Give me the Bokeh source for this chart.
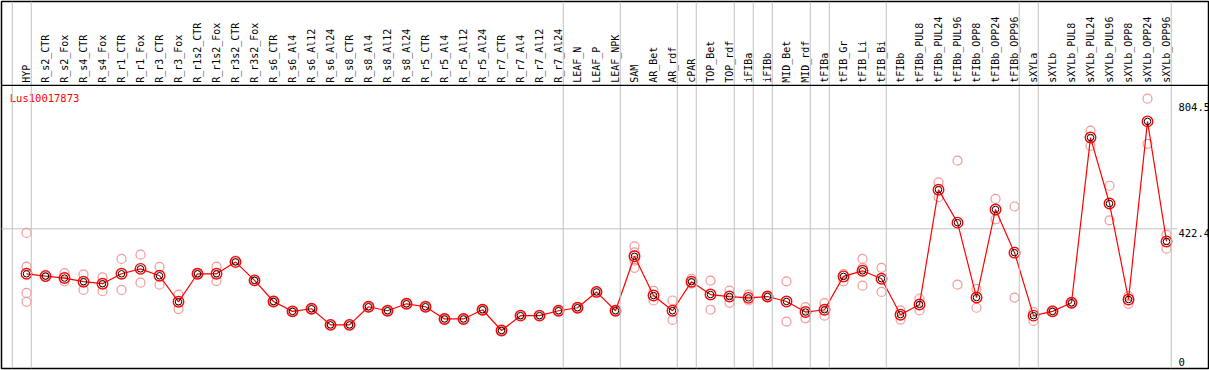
import math
from bokeh.plotting import figure
from bokeh.models import Range1d, Span, ColumnDataSource
from bokeh.core.properties import value
from bokeh.embed import file_html
from bokeh.resources import INLINE

gene = "Lus10017873"

categories = [
    "HYP",
    "R_s2_CTR", "R_s2_Fox", "R_s4_CTR", "R_s4_Fox", "R_r1_CTR", "R_r1_Fox",
    "R_r3_CTR", "R_r3_Fox", "R_r1s2_CTR", "R_r1s2_Fox", "R_r3s2_CTR", "R_r3s2_Fox",
    "R_s6_CTR", "R_s6_Al4", "R_s6_Al12", "R_s6_Al24", "R_s8_CTR", "R_s8_Al4",
    "R_s8_Al12", "R_s8_Al24", "R_r5_CTR", "R_r5_Al4", "R_r5_Al12", "R_r5_Al24",
    "R_r7_CTR", "R_r7_Al4", "R_r7_Al12", "R_r7_Al24",
    "LEAF_N", "LEAF_P", "LEAF_NPK",
    "SAM", "AR_Bet", "AR_rdf",
    "cPAR",
    "TOP_Bet", "TOP_rdf",
    "iFIBa",
    "iFIBb",
    "MID_Bet", "MID_rdf",
    "tFIBa",
    "tFIB_Gr", "tFIB_Li", "tFIB_Bi",
    "tFIBb", "tFIBb_PUL8", "tFIBb_PUL24", "tFIBb_PUL96", "tFIBb_OPP8",
    "tFIBb_OPP24", "tFIBb_OPP96",
    "sXYLa",
    "sXYLb", "sXYLb_PUL8", "sXYLb_PUL24", "sXYLb_PUL96", "sXYLb_OPP8",
    "sXYLb_OPP24", "sXYLb_OPP96",
]

# number of consecutive categories in each tissue group (separated by grey lines)
group_sizes = [1, 28, 3, 3, 1, 2, 1, 1, 2, 1, 3, 7, 1, 7]

means = [
    286,
    279, 273, 262, 256, 286, 301, 280, 201, 286, 286, 322, 266,
    202, 172, 180, 131, 131, 186, 174, 195, 186, 149, 149, 177,
    114, 159, 159, 174,
    183, 231, 174,
    339, 220, 174,
    262,
    223, 217,
    213,
    217,
    202, 170,
    177,
    278, 295, 271,
    162, 193, 541, 441, 214, 481, 350,
    159,
    172, 198, 699, 499, 208, 748, 384,
]

replicates = [
    [410, 308, 228, 201],
    [283, 276], [288, 263], [284, 237], [275, 233], [331, 237], [344, 259],
    [307, 253], [223, 179], [288, 284], [308, 264], [326, 318], [268, 264],
    [204, 200], [173, 171], [181, 179], [132, 130], [132, 130], [187, 185],
    [175, 173], [196, 194], [187, 185], [150, 148], [150, 148], [178, 176],
    [115, 113], [160, 158], [160, 158], [175, 173],
    [184, 182], [232, 230], [175, 173],
    [369, 351, 326, 304], [234, 205], [205, 146],
    [271, 256],
    [265, 177], [235, 198],
    [223, 205],
    [218, 216],
    [263, 141], [185, 151],
    [197, 159],
    [285, 263], [331, 304, 250], [304, 231],
    [175, 147], [211, 175], [563, 518], [629, 253], [240, 183], [513, 451], [490, 214],
    [170, 143],
    [174, 170], [200, 196], [720, 674], [553, 448], [218, 195], [817, 680], [405, 362],
]

scale_ticks = [0, 422.4, 804.5]
scale_labels = ["0", "422.4", "804.5"]

# ---------------------------------------------------------------------------
xs = list(range(len(categories)))

p = figure(width=1209, height=370, output_backend="svg", toolbar_location=None,
           x_range=Range1d(-1.316, 62.21), y_range=Range1d(-1.2, 1111.6),
           x_axis_location=None, y_axis_location=None,
           min_border_left=1, min_border_right=1,
           min_border_top=1, min_border_bottom=2)
p.grid.visible = False
p.outline_line_color = "black"
p.outline_line_width = 1.5
p.background_fill_color = "white"
p.border_fill_color = "white"

# group separators (before the first group and after each group)
ends = [-1]
acc = -1
for g in group_sizes:
    acc += g
    ends.append(acc)
for e in ends:
    p.add_layout(Span(location=e + 0.25, dimension="height",
                      line_color="#c0c0c0", line_width=1))

# separator between label band and data area
label_band = 857
p.add_layout(Span(location=label_band, dimension="width",
                  line_color="black", line_width=1.2))

# mid grid line
p.segment(x0=[-1.4], y0=[scale_ticks[1]], x1=[60.55], y1=[scale_ticks[1]],
          line_color="#c0c0c0", line_width=1)

# category labels (rotated)
p.text(x=xs, y=[865] * len(xs), text=categories, angle=math.pi / 2,
       text_align="left", text_baseline="middle",
       text_font=value("DejaVu Sans Mono"), text_font_size="10px",
       text_color="black")

# scale labels on the right
p.text(x=[60.63] * 2, y=scale_ticks[1:], text=scale_labels[1:],
       text_align="left", text_baseline="top",
       text_font=value("DejaVu Sans Mono"), text_font_size="10.5px",
       text_color="black")
p.text(x=[60.63], y=scale_ticks[:1], text=scale_labels[:1], y_offset=-2,
       text_align="left", text_baseline="bottom",
       text_font=value("DejaVu Sans Mono"), text_font_size="10.5px",
       text_color="black")

# gene title
p.text(x=[-0.88], y=[838], text=[gene], text_align="left", text_baseline="top",
       text_font=value("DejaVu Sans Mono"), text_font_size="10.5px",
       text_color="red")

# replicates
rx, ry = [], []
for i, reps in enumerate(replicates):
    for v in reps:
        rx.append(i)
        ry.append(v)
p.scatter(rx, ry, marker="circle", size=9, fill_color=None,
          line_color="#f09a9a", line_width=1.2)

# mean line and markers
src = ColumnDataSource(dict(x=xs, y=means))
p.line("x", "y", source=src, line_color="red", line_width=1.2)
p.scatter("x", "y", source=src, marker="circle", size=10.5, fill_color=None,
          line_color="red", line_width=1.4)
p.scatter("x", "y", source=src, marker="circle", size=6.5, fill_color=None,
          line_color="black", line_width=1)

open("out.html", "w").write(file_html(p, INLINE))
